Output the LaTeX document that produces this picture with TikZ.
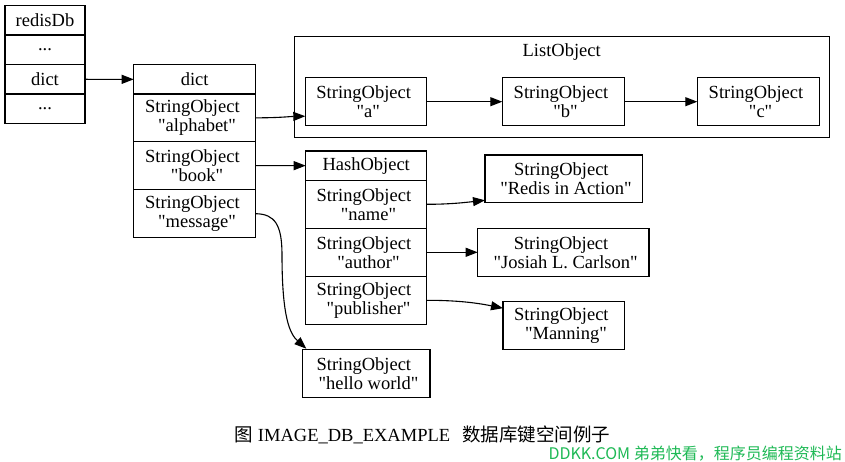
\documentclass[tikz,border=0pt]{standalone}
\usepackage{fontspec}
\setmainfont{Liberation Serif}
\newfontfamily\qfont{Liberation Serif}
\newfontfamily\cjk{Noto Sans CJK SC}
\usetikzlibrary{arrows.meta,calc}
\definecolor{wmgreen}{RGB}{30,185,85}
\newcommand{\dq}{{\qfont\symbol{34}}}
\newcommand{\so}[1]{StringObject\ \mbox{}\\\mbox{}\ \dq#1\dq}
\begin{document}
\begin{tikzpicture}[x=1pt,y=-1pt,
  cell/.style={draw, line width=1.1pt, inner sep=0pt, outer sep=0pt, align=center,
    font=\fontsize{18.5}{19}\selectfont},
  arr/.style={-{Triangle[length=12pt,width=9pt]}, line width=1.1pt}]
\useasboundingbox (0,0) rectangle (845,462);
% redisDb
\node[cell, minimum width=80pt, minimum height=29.5pt] (rtitle) at (45,20.3) {redisDb};
\node[cell, minimum width=80pt, minimum height=29.5pt] (r1) at (45,49.8) {...};
\node[cell, minimum width=80pt, minimum height=29.5pt] (rdict) at (45,79.3) {dict};
\node[cell, minimum width=80pt, minimum height=29.5pt] (r2) at (45,108.8) {...};
% dict
\node[cell, minimum width=122pt, minimum height=29.3pt] (dhead) at (194.7,79.35) {dict};
\node[cell, minimum width=122pt, minimum height=47.7pt] (dalpha) at (194.7,117.85) {\so{alphabet}};
\node[cell, minimum width=122pt, minimum height=48pt] (dbook) at (194.7,165.7) {\so{book}};
\node[cell, minimum width=122pt, minimum height=48pt] (dmsg) at (194.7,213.7) {\so{message}};
% ListObject cluster
\node[draw, line width=1.1pt, inner sep=0pt, outer sep=0pt, minimum width=535pt, minimum height=101pt] (list) at (561.8,86.8) {};
\node[anchor=base, inner sep=0pt, font=\fontsize{18.5}{19}\selectfont] (listlabel) at (561.7,56.7) {ListObject};
\node[cell, minimum width=121.4pt, minimum height=48pt] (a) at (366,101.7) {\so{a}};
\node[cell, minimum width=122pt, minimum height=48pt] (b) at (563.3,101.7) {\so{b}};
\node[cell, minimum width=122pt, minimum height=48pt] (c) at (758.3,101.7) {\so{c}};
% HashObject
\node[cell, minimum width=121pt, minimum height=29.3pt] (hhead) at (366.2,165.65) {HashObject};
\node[cell, minimum width=121pt, minimum height=48pt] (hname) at (366.2,204.3) {\so{name}};
\node[cell, minimum width=121pt, minimum height=48pt] (hauthor) at (366.2,252.3) {\so{author}};
\node[cell, minimum width=121pt, minimum height=48pt] (hpub) at (366.2,300.3) {\so{publisher}};
% values
\node[cell, minimum width=157.3pt, minimum height=47.3pt] (redis) at (563.65,178.65) {\so{Redis in Action}};
\node[cell, minimum width=171.3pt, minimum height=48pt] (josiah) at (563.35,252.3) {\so{Josiah L. Carlson}};
\node[cell, minimum width=121.3pt, minimum height=48pt] (manning) at (563.65,325.7) {\so{Manning}};
\node[cell, minimum width=127.7pt, minimum height=48pt] (hello) at (366.15,373.7) {\so{hello world}};
% edges
\draw[arr] (rdict.east) -- (dhead.west);
\draw[arr] (dalpha.east) .. controls (280,117.8) and (290,116.5) .. ($(a.west)+(0,14.5)$);
\draw[arr] (a.east) -- (b.west);
\draw[arr] (b.east) -- (c.west);
\draw[arr] (dbook.east) -- (hhead.west);
\draw[arr] (dmsg.east) .. controls (275,214) and (282,225) .. (282,255) .. controls (282,318) and (290,334) .. ($(hello.north west)+(4,-1)$);
\draw[arr] (hname.east) .. controls (450,204.3) and (465,202.5) .. ($(redis.south west)+(0,-2)$);
\draw[arr] (hauthor.east) -- (josiah.west);
\draw[arr] (hpub.east) .. controls (455,300.3) and (475,302.5) .. ($(manning.north west)+(0,6.5)$);
% caption and watermark
\node[anchor=base, inner sep=0pt, font=\fontsize{18.5}{19}\selectfont] (cap) at (422.5,441)
  {{\cjk 图}\ IMAGE\_DB\_EXAMPLE\hspace{12pt}{\cjk 数据库键空间例子}};
\node[anchor=east, inner sep=0pt, text=wmgreen, font=\cjk\fontsize{16}{16}\selectfont] (wm) at (842,454)
  {DDKK.COM 弟弟快看，程序员编程资料站};
\end{tikzpicture}
\end{document}
